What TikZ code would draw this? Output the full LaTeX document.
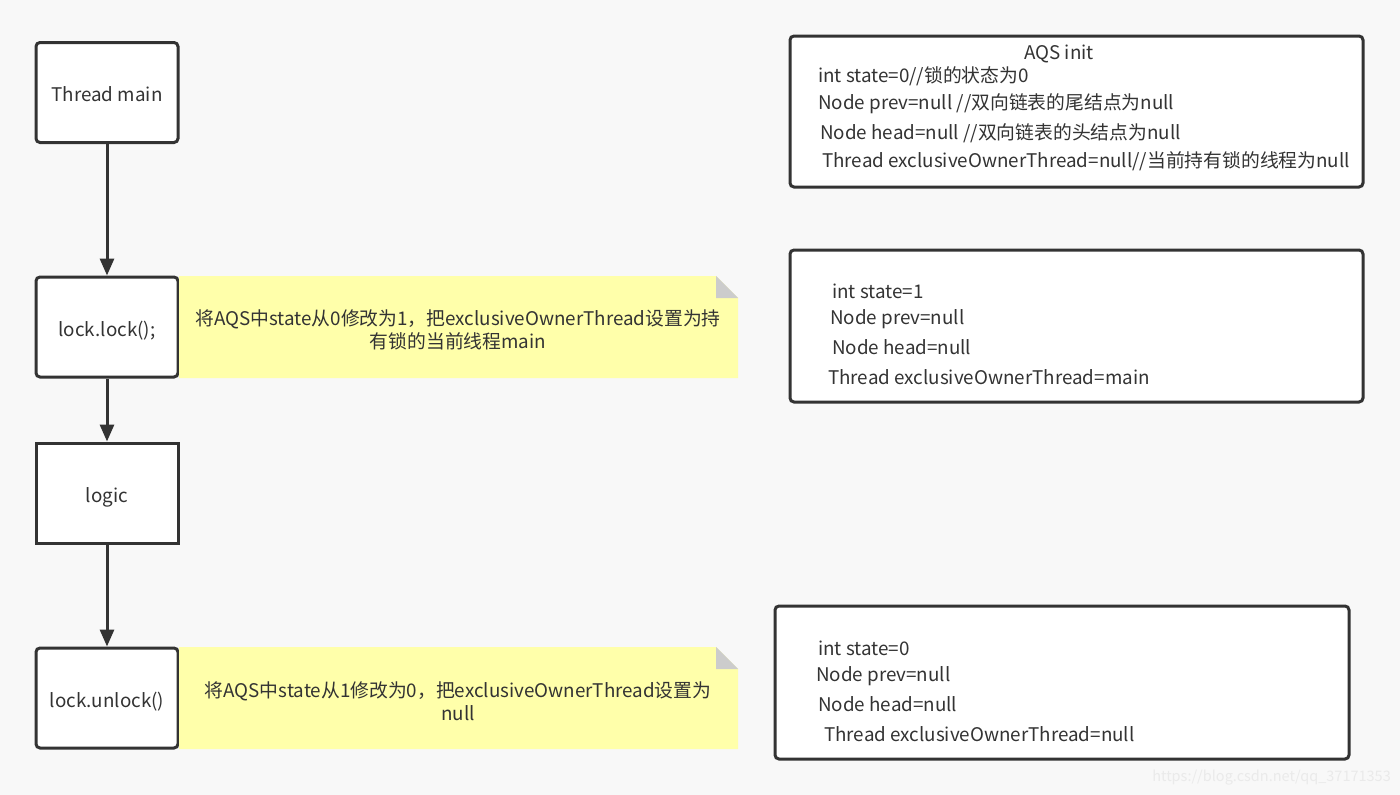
\documentclass[tikz,border=0pt]{standalone}
\usepackage{fontspec}
\setmainfont{Noto Sans CJK SC}
\usetikzlibrary{arrows.meta}
\definecolor{bg}{HTML}{F8F8F8}
\definecolor{ink}{HTML}{333333}
\definecolor{notey}{HTML}{FFFFAA}
\definecolor{fold}{HTML}{CCCCCC}
\definecolor{wm}{HTML}{EAEAEA}
\begin{document}
\begin{tikzpicture}[x=1pt,y=-1pt,
  txt/.style={font=\fontsize{18.8}{23}\selectfont, text=ink},
  stepbox/.style={txt, draw=ink, line width=3pt, fill=white, rounded corners=4pt, minimum width=142pt, minimum height=100pt, inner sep=0pt, text height=18pt, text depth=0pt},
  sqbox/.style={stepbox, rounded corners=0pt},
  infobox/.style={draw=ink, line width=3pt, fill=white, rounded corners=4pt, inner sep=0pt},
  line/.style={anchor=west, txt, inner sep=0pt, text height=13pt, text depth=4pt},
  notetxt/.style={txt, align=center, inner sep=0pt},
  notefill/.style={fill=notey},
  foldfill/.style={fill=fold},
  flow/.style={draw=ink, line width=3pt, -{Triangle[width=14pt,length=17pt]}}
]
\path[fill=bg] (0,0) rectangle (1400,795);
\useasboundingbox (0,0) rectangle (1400,795);

% left flow
\node[stepbox] (tm) at (107,92.5) {Thread main};
\node[stepbox] (ll) at (107,327) {lock.lock();};
\node[sqbox] (lg) at (107,493) {logic};
\node[stepbox] (ul) at (107,698) {lock.unlock()};
\draw[flow] (tm.south) -- (ll.north);
\draw[flow] (ll.south) -- (lg.north);
\draw[flow] (lg.south) -- (ul.north);

% notes
\path[notefill] (179,276) -- (716,276) -- (738,298) -- (738,378) -- (179,378) -- cycle;
\path[foldfill] (716,276) -- (716,298) -- (738,298) -- cycle;
\node[notetxt] (n1) at (458,330) {将AQS中state从0修改为1，把exclusiveOwnerThread设置为持\\有锁的当前线程main};
\path[notefill] (179,647) -- (716,647) -- (738,669) -- (738,749) -- (179,749) -- cycle;
\path[foldfill] (716,647) -- (716,669) -- (738,669) -- cycle;
\node[notetxt] (n2) at (458,701) {将AQS中state从1修改为0，把exclusiveOwnerThread设置为\\null};

% info boxes
\node[infobox, minimum width=573pt, minimum height=151pt] (b1) at (1076.5,111.5) {};
\node[txt, inner sep=0pt] (b1t) at (1059,54) {AQS init};
\node[line] (b1a) at (818,78) {int state=0//锁的状态为0};
\node[line] (b1b) at (818,105) {Node prev=null //双向链表的尾结点为null};
\node[line] (b1c) at (820,135) {Node head=null //双向链表的头结点为null};
\node[line] (b1d) at (822,163) {Thread exclusiveOwnerThread=null//当前持有锁的线程为null};

\node[infobox, minimum width=573pt, minimum height=152pt] (b2) at (1076.5,326) {};
\node[line] (b2a) at (832,294) {int state=1};
\node[line] (b2b) at (830,320) {Node prev=null};
\node[line] (b2c) at (832,350) {Node head=null};
\node[line] (b2d) at (828,380) {Thread exclusiveOwnerThread=main};

\node[infobox, minimum width=574pt, minimum height=153pt] (b3) at (1062,682.5) {};
\node[line] (b3a) at (818,651) {int state=0};
\node[line] (b3b) at (816,677) {Node prev=null};
\node[line] (b3c) at (818,707) {Node head=null};
\node[line] (b3d) at (824,737) {Thread exclusiveOwnerThread=null};

\node[anchor=east, inner sep=0pt, text=wm, font=\fontsize{14.5}{17}\selectfont] (wmk) at (1391,778) {https://blog.csdn.net/qq\_37171353};
\end{tikzpicture}
\end{document}
